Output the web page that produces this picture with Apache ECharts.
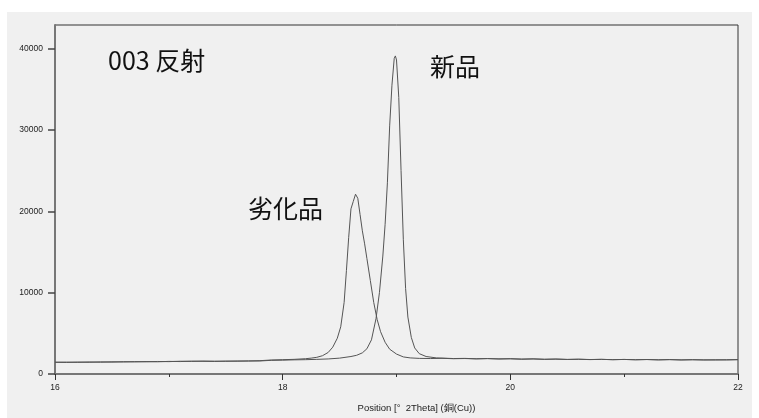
<!DOCTYPE html>
<html>
<head>
<meta charset="utf-8">
<script src="https://cdn.jsdelivr.net/npm/echarts@6/dist/echarts.min.js"></script>
<style>
  html, body { margin: 0; padding: 0; background: #fff; }
  #chart { position: absolute; left: 7px; top: 12px; width: 745px; height: 406px; }
</style>
</head>
<body>
<div id="chart"></div>
<script>
// 新品 (new) scan
const newX = [16.0, 16.1, 16.2, 16.3, 16.4, 16.5, 16.6, 16.7, 16.8, 16.9, 17.0, 17.1, 17.2, 17.3, 17.4, 17.5, 17.6, 17.7, 17.8, 17.9,
  18.0, 18.1, 18.2, 18.3, 18.4, 18.5, 18.6, 18.65, 18.7, 18.74, 18.78, 18.82, 18.85, 18.88, 18.9, 18.92, 18.94, 18.96, 18.98, 18.99,
  19.0, 19.02, 19.04, 19.06, 19.08, 19.1, 19.13, 19.16, 19.2, 19.26, 19.35, 19.5, 19.6, 19.7, 19.8, 19.9, 20.0, 20.1, 20.2, 20.3,
  20.4, 20.5, 20.6, 20.7, 20.8, 20.9, 21.0, 21.1, 21.2, 21.3, 21.4, 21.5, 21.6, 21.7, 21.8, 21.9, 22.0];
const newY = [1450, 1420, 1470, 1440, 1490, 1460, 1510, 1490, 1530, 1500, 1550, 1530, 1580, 1560, 1540, 1590, 1570, 1610, 1600, 1680,
  1700, 1740, 1760, 1800, 1850, 1950, 2150, 2300, 2600, 3100, 4200, 6800, 10000, 14500, 18400, 23500, 30500, 35500, 38800, 39100,
  38600, 34000, 25000, 16500, 10500, 7000, 4500, 3200, 2500, 2150, 1980, 1900, 1920, 1870, 1900, 1850, 1880, 1830, 1860, 1810,
  1840, 1790, 1820, 1780, 1800, 1760, 1790, 1750, 1780, 1740, 1770, 1730, 1760, 1720, 1750, 1730, 1760];

// 劣化品 (degraded) scan
const oldX = [16.0, 16.1, 16.2, 16.3, 16.4, 16.5, 16.6, 16.7, 16.8, 16.9, 17.0, 17.1, 17.2, 17.3, 17.4, 17.5, 17.6, 17.7, 17.8, 17.9,
  18.0, 18.1, 18.2, 18.25, 18.3, 18.35, 18.4, 18.44, 18.48, 18.51, 18.54, 18.56, 18.58, 18.6, 18.62, 18.64, 18.66, 18.68, 18.7, 18.72,
  18.74, 18.77, 18.8, 18.83, 18.86, 18.9, 18.94, 19.0, 19.06, 19.12, 19.2, 19.3, 19.4, 19.5, 19.6, 19.7, 19.8, 19.9, 20.0, 20.1,
  20.2, 20.3, 20.4, 20.5, 20.6, 20.7, 20.8, 20.9, 21.0, 21.1, 21.2, 21.3, 21.4, 21.5, 21.6, 21.7, 21.8, 21.9, 22.0];
const oldY = [1440, 1460, 1430, 1480, 1450, 1500, 1480, 1520, 1500, 1540, 1520, 1570, 1550, 1590, 1580, 1560, 1600, 1590, 1640, 1720,
  1760, 1800, 1880, 1950, 2050, 2250, 2650, 3300, 4400, 5800, 8800, 12700, 16800, 20300, 21200, 22100, 21600, 19600, 17600, 16000,
  14200, 11500, 8800, 6700, 5200, 3900, 3050, 2450, 2100, 1980, 1920, 1900, 1930, 1880, 1900, 1860, 1890, 1850, 1870, 1820,
  1850, 1800, 1830, 1790, 1810, 1770, 1800, 1760, 1790, 1750, 1780, 1740, 1770, 1730, 1750, 1740, 1720, 1750, 1770];

const yTicks = [0, 10000, 20000, 30000, 40000];
const xTitle = 'Position [°  2Theta] (銅(Cu))';
const labels = ['003 反射', '新品', '劣化品'];

const chart = echarts.init(document.getElementById('chart'));

const labelFont = { fontFamily: 'Liberation Sans', fontSize: 8.5, color: '#222' };
const bigFont = '25px "Noto Sans CJK JP"';

chart.setOption({
  backgroundColor: '#f0f0f0',
  animation: false,
  grid: { left: 48, right: 14, top: 13, bottom: 40, show: true, borderColor: '#333', borderWidth: 1 },
  xAxis: {
    type: 'value',
    min: 16,
    max: 22,
    interval: 2,
    name: xTitle,
    nameLocation: 'middle',
    nameGap: 29,
    nameTextStyle: { ...labelFont, fontSize: 9.5, padding: [0, 0, 0, 40] },
    axisLine: { lineStyle: { color: '#777', width: 2 } },
    axisTick: { length: 6, lineStyle: { color: '#333' } },
    minorTick: { show: true, splitNumber: 2, length: 3, lineStyle: { color: '#333' } },
    axisLabel: { ...labelFont, margin: 9 },
    splitLine: { show: false }
  },
  yAxis: {
    type: 'value',
    min: 0,
    max: 42900,
    axisLine: { show: true, lineStyle: { color: '#777', width: 2 } },
    axisTick: { show: true, length: 7, customValues: yTicks, lineStyle: { color: '#444', width: 1.5 } },
    axisLabel: { ...labelFont, margin: 12, customValues: yTicks, formatter: v => String(v) },
    splitLine: { show: false }
  },
  graphic: [
    { type: 'text', left: 101, top: 36, style: { text: labels[0], font: bigFont, fill: '#111' } },
    { type: 'text', left: 423, top: 42, style: { text: labels[1], font: bigFont, fill: '#111' } },
    { type: 'text', left: 241, top: 184, style: { text: labels[2], font: bigFont, fill: '#111' } }
  ],
  series: [
    {
      name: labels[1],
      type: 'line',
      data: newX.map((x, i) => [x, newY[i]]),
      showSymbol: false,
      lineStyle: { color: '#555', width: 1 }
    },
    {
      name: labels[2],
      type: 'line',
      data: oldX.map((x, i) => [x, oldY[i]]),
      showSymbol: false,
      lineStyle: { color: '#555', width: 1 }
    }
  ]
});
</script>
</body>
</html>
